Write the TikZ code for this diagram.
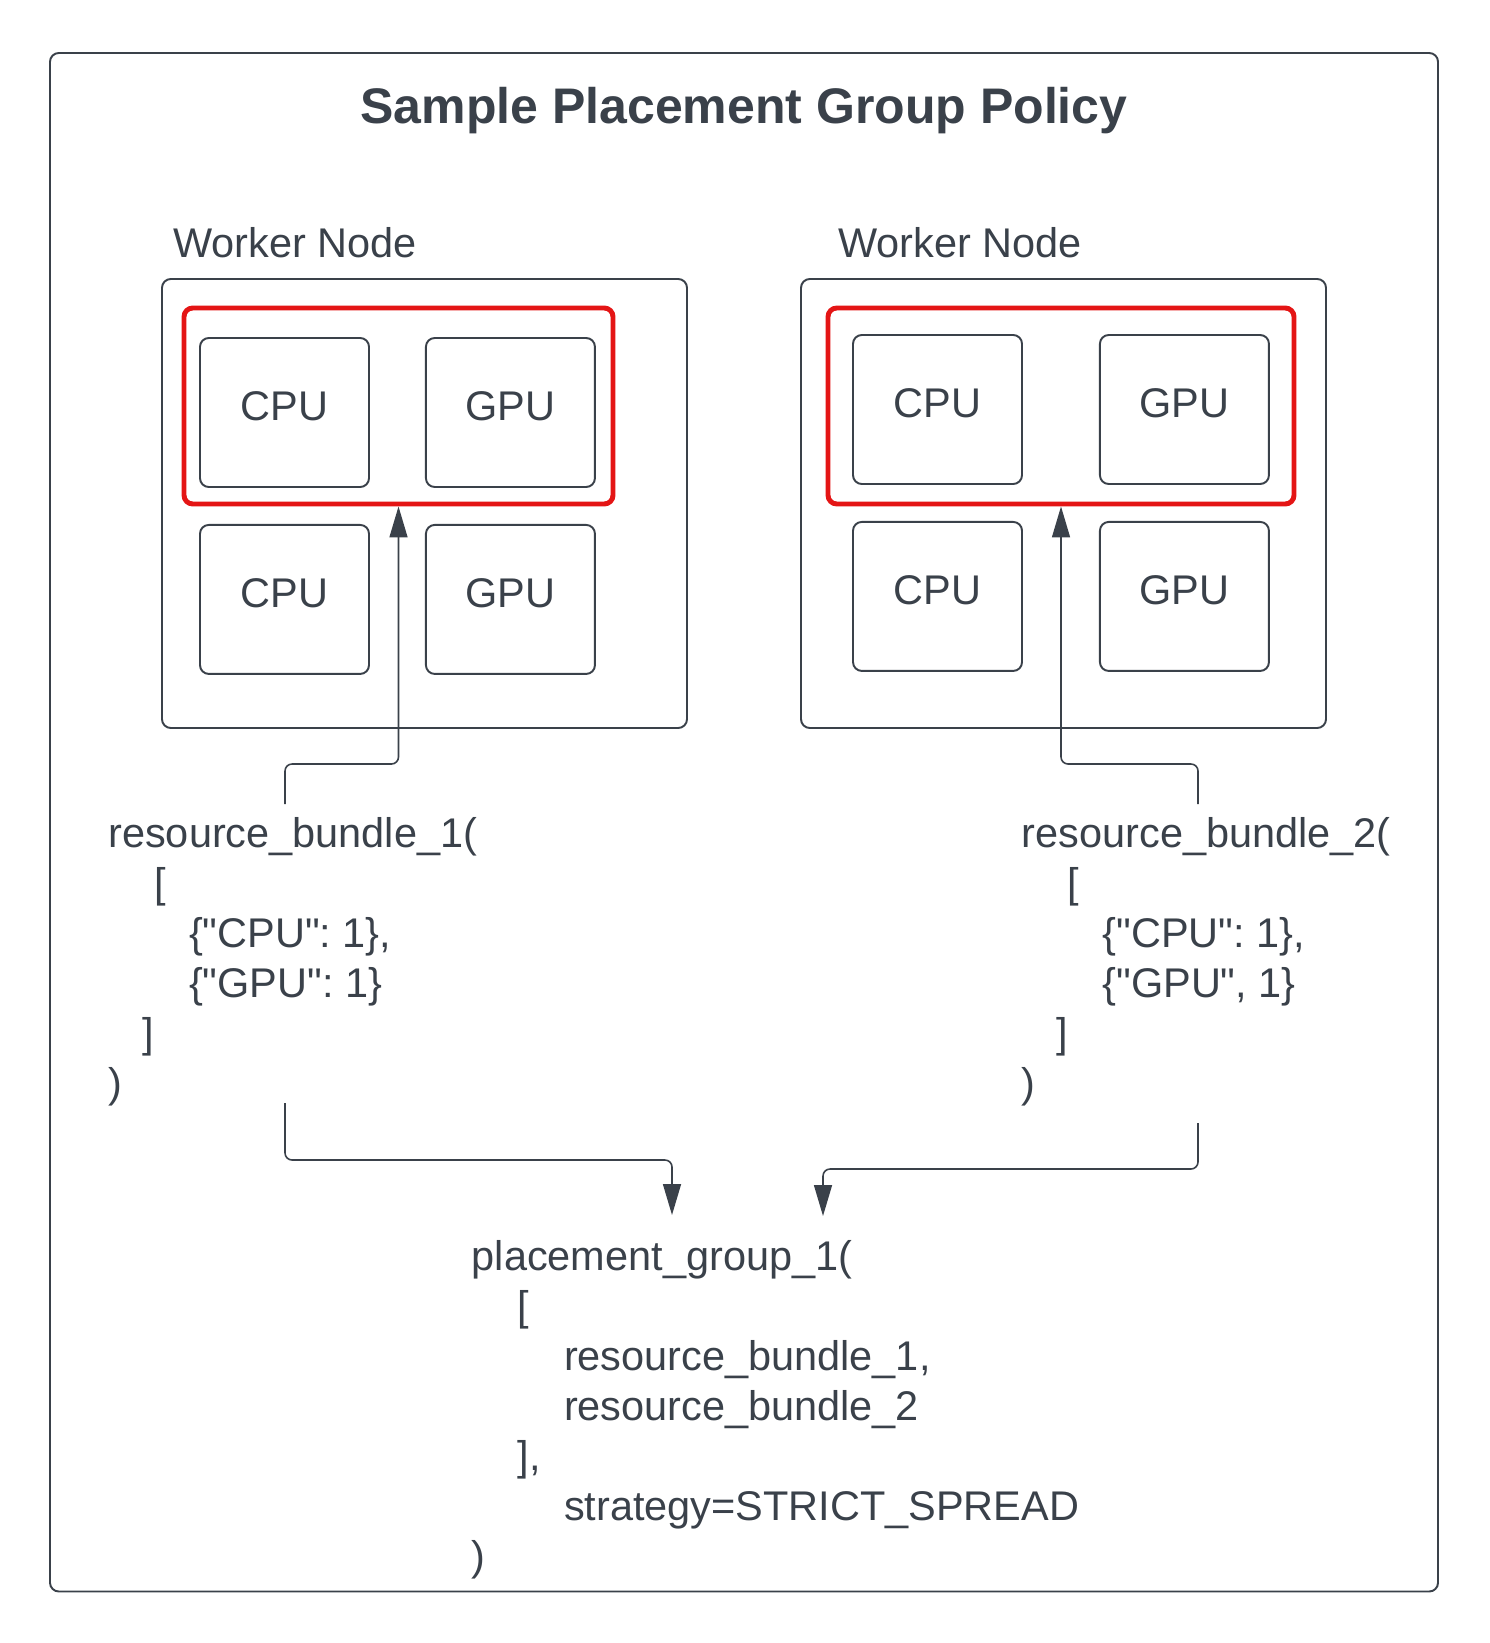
\documentclass[tikz,border=0pt]{standalone}
\usepackage{fontspec}
\setmainfont{Liberation Sans}
\usetikzlibrary{arrows.meta, positioning}
\definecolor{inkgray}{RGB}{58, 65, 74}
\definecolor{pickred}{RGB}{228, 21, 21}
\newcommand{\codepad}[1]{\hspace*{#1\fontdimen2\font}}
\newcommand{\dq}{\textquotedbl}

\begin{document}
\begin{tikzpicture}[
  frame/.style={draw=inkgray, line width=1.1pt, rounded corners=5pt},
  unit/.style={draw=inkgray, line width=1.1pt, rounded corners=5pt, minimum width=3.38cm, minimum height=2.98cm, font=\fontsize{23.6pt}{28pt}\selectfont, text=inkgray, text depth=7pt},
  bundle/.style={draw=pickred, line width=2.8pt, rounded corners=5pt},
  label/.style={anchor=base west, inner sep=0pt, font=\fontsize{23.6pt}{28pt}\selectfont, text=inkgray},
  code/.style={anchor=north west, inner sep=0pt, align=left, font=\fontsize{23.6pt}{28.45pt}\selectfont, text=inkgray},
  conn/.style={draw=inkgray, line width=0.9pt, rounded corners=4pt},
  tip/.style={-{Triangle[length=0.62cm, width=0.36cm]}}
]
  \useasboundingbox (0, 0) rectangle (29.78, -32.86);
  \draw[frame] (1.0, -1.06) rectangle (28.76, -31.83);

  \node[anchor=base, inner sep=0pt, font=\fontsize{28.45pt}{34pt}\selectfont\bfseries, text=inkgray] (title) at (14.88, -2.48) {Sample Placement Group Policy};

  % left worker
  \node[label] (nameL) at (3.46, -5.16) {Worker Node};
  \node[frame, minimum width=10.5cm, minimum height=8.98cm] (workerL) at (8.49, -10.07) {};
  \node[bundle, minimum width=8.58cm, minimum height=3.92cm] (redL) at (7.97, -8.12) {};
  \node[unit] (cpu1) at (5.69, -8.25) {CPU};
  \node[unit, right=1.1cm of cpu1] (gpu1) {GPU};
  \node[unit, below=0.72cm of cpu1] (cpu2) {CPU};
  \node[unit, below=0.72cm of gpu1] (gpu2) {GPU};

  % right worker
  \node[label] (nameR) at (16.76, -5.16) {Worker Node};
  \node[frame, minimum width=10.5cm, minimum height=8.98cm] (workerR) at (21.27, -10.07) {};
  \node[bundle, minimum width=9.32cm, minimum height=3.92cm] (redR) at (21.22, -8.12) {};
  \node[unit] (cpu3) at (18.75, -8.19) {CPU};
  \node[unit, right=1.52cm of cpu3] (gpu3) {GPU};
  \node[unit, below=0.72cm of cpu3] (cpu4) {CPU};
  \node[unit, below=0.72cm of gpu3] (gpu4) {GPU};

  % bundles
  \node[code] (rb1) at (2.16, -16.34) {resource\_bundle\_1(\\
    \codepad{4}[\\
    \codepad{7}\{\dq CPU\dq: 1\},\\
    \codepad{7}\{\dq GPU\dq: 1\}\\
    \codepad{3}]\\
    )};
  \node[code] (rb2) at (20.43, -16.34) {resource\_bundle\_2(\\
    \codepad{4}[\\
    \codepad{7}\{\dq CPU\dq: 1\},\\
    \codepad{7}\{\dq GPU\dq, 1\}\\
    \codepad{3}]\\
    )};
  \node[code] (pg) at (9.43, -24.8) {placement\_group\_1(\\
    \codepad{4}[\\
    \codepad{8}resource\_bundle\_1,\\
    \codepad{8}resource\_bundle\_2\\
    \codepad{4}],\\
    \codepad{8}strategy=STRICT\_SPREAD\\
    )};

  % connectors
  \coordinate (up1) at (5.7, -16.08);
  \coordinate (bend1) at (5.7, -15.28);
  \coordinate (up2) at (23.96, -16.08);
  \coordinate (bend2) at (23.96, -15.28);
  \draw[conn, tip] (up1) -- (bend1) -| (redL.south);
  \draw[conn, tip] (up2) -- (bend2) -| (redR.south);

  \coordinate (down1) at (5.7, -22.06);
  \coordinate (in1) at (13.44, -24.3);
  \coordinate (down2) at (23.96, -22.46);
  \coordinate (in2) at (16.46, -24.32);
  \draw[conn, tip] (down1) |- (13.44, -23.2) -- (in1);
  \draw[conn, tip] (down2) |- (16.46, -23.38) -- (in2);
\end{tikzpicture}
\end{document}
